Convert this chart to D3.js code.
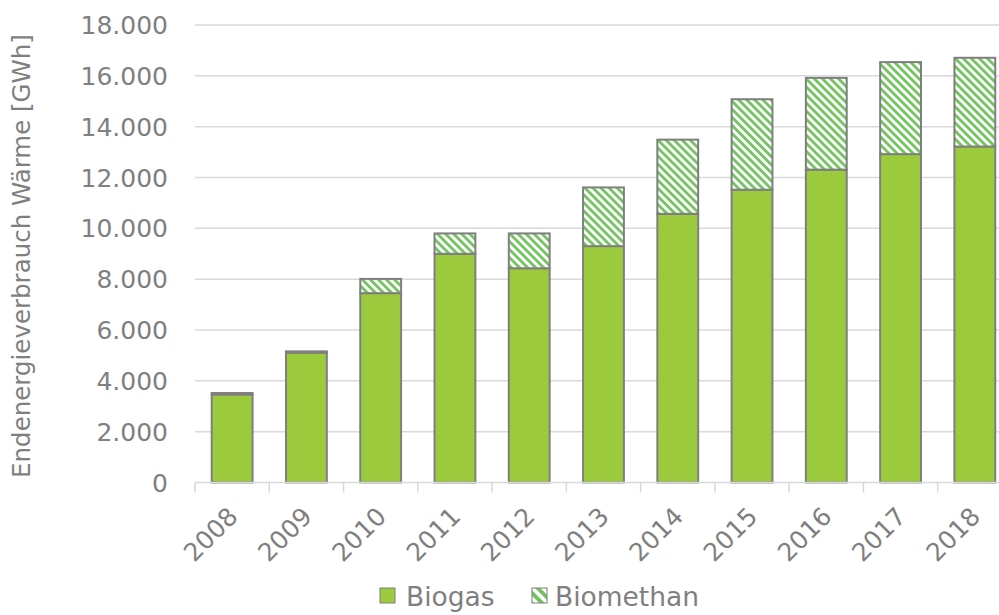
<!DOCTYPE html>
<html>
<head>
<meta charset="utf-8">
<script src="https://cdn.jsdelivr.net/npm/d3@7"></script>
<style>
  html, body { margin: 0; padding: 0; background: #fff; }
  svg { display: block; }
  text { font-family: "DejaVu Sans", "Liberation Sans", sans-serif; fill: #7f7f7f; }
</style>
</head>
<body>
<svg id="chart" width="999" height="615"></svg>
<script>
// Endenergieverbrauch Wärme aus Biogas und Biomethan, GWh
const years = ["2008","2009","2010","2011","2012","2013","2014","2015","2016","2017","2018"];
const biogas    = [3460, 5110, 7450, 9000, 8430, 9300, 10570, 11520, 12310, 12920, 13220];
const biomethan = [  60,   50,  560,  800, 1370, 2310,  2920,  3560,  3610,  3620,  3490];
const yTicks = [0, 2000, 4000, 6000, 8000, 10000, 12000, 14000, 16000, 18000];
const seriesNames = ["Biogas", "Biomethan"];
const yTitle = "Endenergieverbrauch Wärme [GWh]";

const svg = d3.select("#chart");
const W = 999;

const x = d3.scaleBand()
  .domain(years)
  .range([195, 195 + 74.27 * years.length])
  .paddingInner(0.45)
  .paddingOuter(0.225);

const y = d3.scaleLinear().domain([0, 18000]).range([482.5, 25]);

// diagonal hatch for Biomethan (bars and legend key)
const defs = svg.append("defs");
function hatch(id, size, color) {
  const p = defs.append("pattern")
    .attr("id", id)
    .attr("patternUnits", "userSpaceOnUse")
    .attr("width", size).attr("height", size)
    .attr("patternTransform", "rotate(-45)");
  p.append("rect").attr("width", size).attr("height", size).attr("fill", "#ffffff");
  p.append("rect").attr("width", size / 2).attr("height", size).attr("fill", color);
}
hatch("hatch", 5.7, "#74c461");
hatch("hatchKey", 7.5, "#6fc25c");

const colors = { Biogas: "#9bcb3c", Biomethan: "url(#hatch)" };
const keyColors = { Biogas: "#9bcb3c", Biomethan: "url(#hatchKey)" };

// gridlines
svg.append("g")
  .selectAll("line")
  .data(yTicks.filter(d => d > 0))
  .join("line")
  .attr("x1", 195).attr("x2", W)
  .attr("y1", d => y(d)).attr("y2", d => y(d))
  .attr("stroke", "#d9d9d9").attr("stroke-width", 1.5);

// y tick labels
svg.append("g")
  .selectAll("text")
  .data(yTicks)
  .join("text")
  .attr("x", 168)
  .attr("y", d => y(d))
  .attr("dy", "0.36em")
  .attr("text-anchor", "end")
  .style("font-size", "25px")
  .text(d => d3.format(",")(d).replace(/,/g, "."));

// stacked bars
const rows = years.map((yr, i) => ({ year: yr, Biogas: biogas[i], Biomethan: biomethan[i] }));
const stack = d3.stack().keys(seriesNames)(rows);

svg.append("g")
  .selectAll("g")
  .data(stack)
  .join("g")
  .attr("fill", d => colors[d.key])
  .selectAll("rect")
  .data(d => d)
  .join("rect")
  .attr("x", d => x(d.data.year))
  .attr("width", x.bandwidth())
  .attr("y", d => y(d[1]))
  .attr("height", d => y(d[0]) - y(d[1]))
  .attr("stroke", "#7f7f7f")
  .attr("stroke-width", 2);

// category axis
const step = x.step();
const x0 = x.range()[0];
svg.append("line")
  .attr("x1", x0).attr("x2", x.range()[1])
  .attr("y1", y(0)).attr("y2", y(0))
  .attr("stroke", "#d9d9d9").attr("stroke-width", 1.5);
svg.append("g")
  .selectAll("line")
  .data(d3.range(years.length + 1))
  .join("line")
  .attr("x1", i => x0 + i * step).attr("x2", i => x0 + i * step)
  .attr("y1", y(0)).attr("y2", y(0) + 10)
  .attr("stroke", "#d9d9d9").attr("stroke-width", 1.5);

svg.append("g")
  .selectAll("text")
  .data(years)
  .join("text")
  .attr("transform", d => `translate(${x(d) + x.bandwidth() / 2 + 7},518) rotate(-45)`)
  .attr("text-anchor", "end")
  .style("font-size", "25px")
  .text(d => d);

// y axis title
svg.append("text")
  .attr("transform", "translate(30,256) rotate(-90)")
  .attr("text-anchor", "middle")
  .style("font-size", "24.5px")
  .text(yTitle);

// legend
const legend = [
  { name: seriesNames[0], x: 380, tx: 406 },
  { name: seriesNames[1], x: 532, tx: 555 }
];
const lg = svg.append("g").selectAll("g").data(legend).join("g");
lg.append("rect")
  .attr("x", d => d.x).attr("y", 588)
  .attr("width", 15).attr("height", 15)
  .attr("fill", d => keyColors[d.name])
  .attr("stroke", "#7f7f7f").attr("stroke-width", 1);
lg.append("text")
  .attr("x", d => d.tx).attr("y", 606)
  .style("font-size", "26.5px")
  .text(d => d.name);
</script>
</body>
</html>
